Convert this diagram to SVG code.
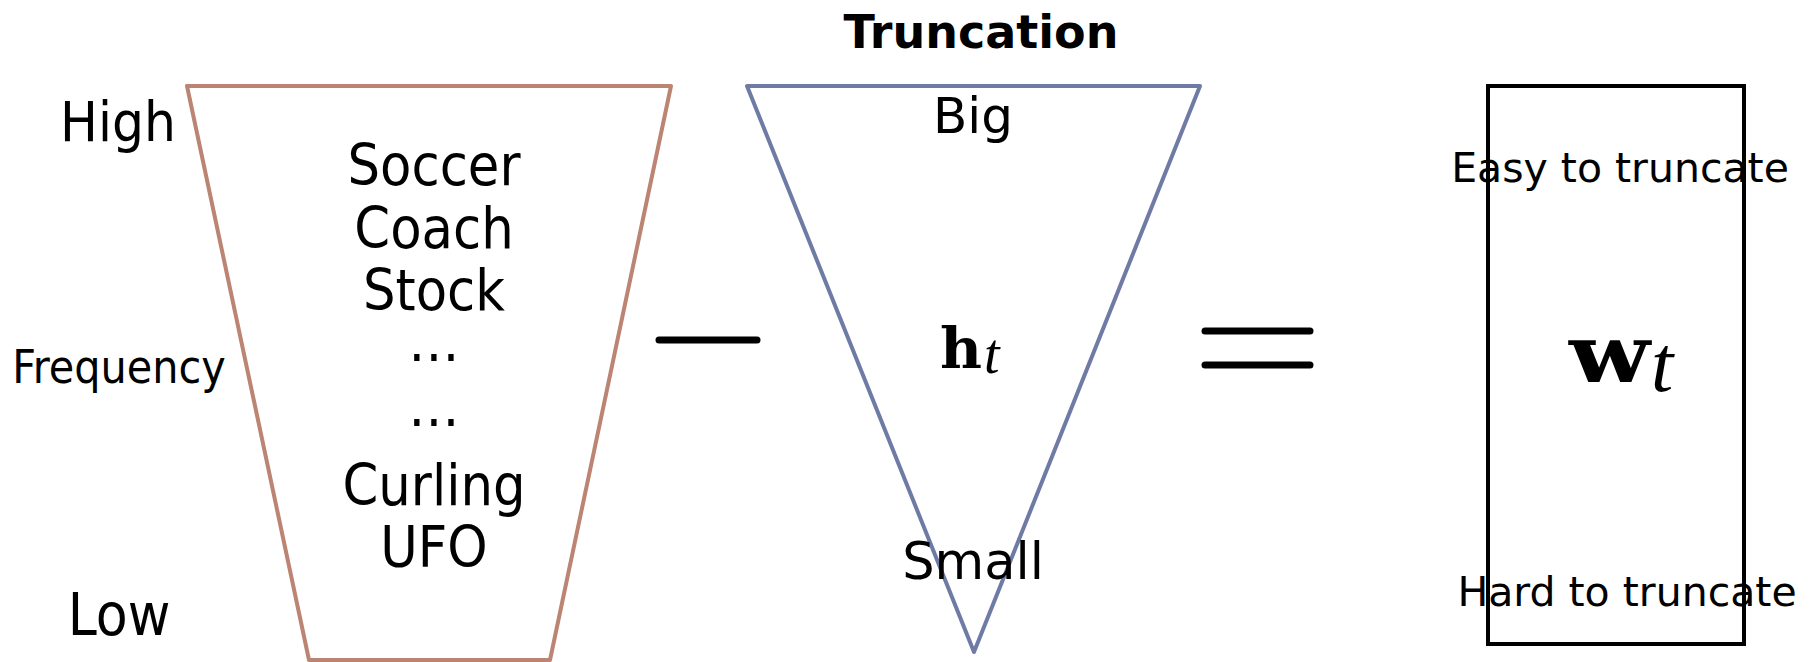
<svg xmlns="http://www.w3.org/2000/svg" width="1816" height="662" viewBox="0 0 1816 662">
<style>
.cond{font-family:"DejaVu Sans Condensed","DejaVu Sans",sans-serif;fill:#000}
.reg{font-family:"DejaVu Sans",sans-serif;fill:#000}
.mb{font-family:"DejaVu Serif","Liberation Serif",serif;font-weight:bold;fill:#000}
.mi{font-family:"Liberation Serif",serif;font-style:italic;fill:#000}
.op{stroke:#000;stroke-width:7;stroke-linecap:round;fill:none}
</style>
<rect width="1816" height="662" fill="#fff"/>
<text x="981" y="48" text-anchor="middle" font-family="'DejaVu Sans',sans-serif" font-weight="bold" font-size="46">Truncation</text>
<g id="frequency-axis">
<text class="cond" x="118" y="141" text-anchor="middle" font-size="56">High</text>
<text class="cond" x="119" y="383" text-anchor="middle" font-size="46">Frequency</text>
<text class="cond" x="119" y="635" text-anchor="middle" font-size="58">Low</text>
</g>
<g id="words">
<polygon points="187,86 671,86 550,660 309,660" fill="none" stroke="#BC8472" stroke-width="4" stroke-linejoin="round"/>
<g class="cond" font-size="57" text-anchor="middle">
<text x="434" y="185">Soccer</text>
<text x="434" y="248">Coach</text>
<text x="434" y="310">Stock</text>
<text x="434" y="361">…</text>
<text x="434" y="426">…</text>
<text x="434" y="505">Curling</text>
<text x="434" y="567">UFO</text>
</g>
</g>
<g id="connectors">
<line class="op" x1="659" y1="340" x2="757" y2="340"/>
<line class="op" x1="1205" y1="331" x2="1310" y2="331"/>
<line class="op" x1="1205" y1="365" x2="1310" y2="365"/>
</g>
<g id="truncation">
<polygon points="747,86 1200,86 974,652" fill="none" stroke="#6D7BA5" stroke-width="4" stroke-linejoin="round"/>
<text class="reg" x="973" y="133" text-anchor="middle" font-size="50">Big</text>
<text class="reg" x="973" y="579" text-anchor="middle" font-size="51">Small</text>
<text class="mb" x="940" y="368" font-size="56" textLength="42" lengthAdjust="spacingAndGlyphs">h</text>
<text class="mi" x="984" y="373" font-size="56">t</text>
</g>
<g id="weights">
<rect x="1488" y="86" width="256" height="558" fill="none" stroke="#000" stroke-width="4"/>
<text class="reg" x="1620" y="182" text-anchor="middle" font-size="41">Easy to truncate</text>
<text class="reg" x="1627" y="606" text-anchor="middle" font-size="41">Hard to truncate</text>
<text class="mb" x="1569" y="382" font-size="80" textLength="81" lengthAdjust="spacingAndGlyphs">w</text>
<text class="mi" x="1651" y="391" font-size="80">t</text>
</g>
</svg>
